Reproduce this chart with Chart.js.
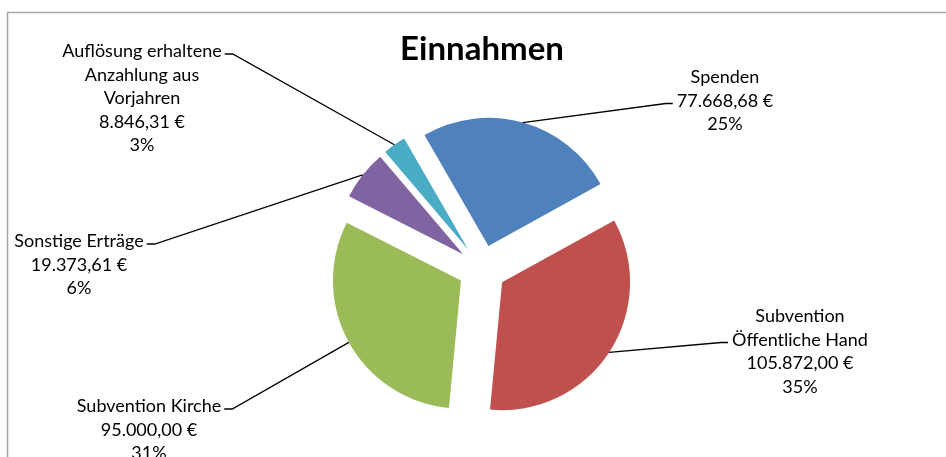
<!DOCTYPE html>
<html>
<head>
<meta charset="utf-8">
<script src="https://cdn.jsdelivr.net/npm/chart.js@4.4.1/dist/chart.umd.min.js"></script>
<style>
    html, body { margin: 0; padding: 0; background: #fff; }
    #wrap { position: relative; width: 946px; height: 457px; overflow: hidden; }
</style>
</head>
<body>
<div id="wrap"><canvas id="chartEinnahmen" width="946" height="457"></canvas></div>
<script>
    // Daten
    const kategorien = [
        ['Spenden'],
        ['Subvention', 'Öffentliche Hand'],
        ['Subvention Kirche'],
        ['Sonstige Erträge'],
        ['Auflösung erhaltene', 'Anzahlung aus', 'Vorjahren']
    ];
    const betraege = [77668.68, 105872.00, 95000.00, 19373.61, 8846.31];
    const farben   = ['#4F81BD', '#C0504D', '#9BBB59', '#8064A2', '#4BACC6'];

    // Beschriftungen: Mittelpunkt x, Grundlinie der ersten Zeile, Seite der Führungslinie, Zeile
    const labelLayout = [
        { cx: 725, y: 83,  side: 'left',  line: 1 },
        { cx: 800, y: 322, side: 'left',  line: 1 },
        { cx: 149, y: 412, side: 'right', line: 0 },
        { cx: 79,  y: 247, side: 'right', line: 0 },
        { cx: 142, y: 57,  side: 'right', line: 0 }
    ];
    const EXPLODE = 24;
    const LINE_H = 23.5;
    const LABEL_FONT = '18px Lato';

    const total = betraege.reduce((a, b) => a + b, 0);
    const euro = v => {
        const [i, d] = v.toFixed(2).split('.');
        return i.replace(/\B(?=(\d{3})+(?!\d))/g, '.') + ',' + d + ' €';
    };

    const framePlugin = {
        id: 'frame',
        beforeDraw(chart) {
            const c = chart.ctx;
            c.save();
            c.fillStyle = '#fff';
            c.fillRect(0, 0, chart.width, chart.height);
            c.strokeStyle = '#a6a6a6';
            c.lineWidth = 1.5;
            c.beginPath();
            c.moveTo(7.5, chart.height);
            c.lineTo(7.5, 12.5);
            c.lineTo(chart.width, 12.5);
            c.stroke();
            c.restore();
        }
    };

    // explodierte Segmente, gleichmäßig nach außen verschoben
    const explodePlugin = {
        id: 'explode',
        beforeDatasetsDraw(chart) {
            const c = chart.ctx;
            chart.getDatasetMeta(0).data.forEach(arc => {
                const mid = (arc.startAngle + arc.endAngle) / 2;
                c.save();
                c.translate(Math.cos(mid) * EXPLODE, Math.sin(mid) * EXPLODE);
                arc.draw(c);
                c.restore();
            });
            return false;
        }
    };

    const labelPlugin = {
        id: 'labels',
        afterDraw(chart) {
            const c = chart.ctx;
            c.save();
            c.font = LABEL_FONT;
            c.fillStyle = '#000';
            c.strokeStyle = '#000';
            c.lineWidth = 1.3;
            c.textAlign = 'center';
            c.textBaseline = 'alphabetic';
            chart.getDatasetMeta(0).data.forEach((arc, i) => {
                const lay = labelLayout[i];
                const lines = kategorien[i].concat([euro(betraege[i]), Math.round(betraege[i] / total * 100) + '%']);
                lines.forEach((t, k) => c.fillText(t, lay.cx, lay.y + k * LINE_H));

                const mid = (arc.startAngle + arc.endAngle) / 2;
                const r = arc.outerRadius + EXPLODE;
                const px = arc.x + Math.cos(mid) * r;
                const py = arc.y + Math.sin(mid) * r;
                const w = c.measureText(lines[lay.line]).width;
                const ly = lay.y + lay.line * LINE_H - 3;
                let x1, x2;
                if (lay.side === 'left') {
                    x1 = lay.cx - w / 2 - 4;
                    x2 = x1 - 7;
                } else {
                    x1 = lay.cx + w / 2 + 3;
                    x2 = x1 + 8;
                }
                c.beginPath();
                c.moveTo(px, py);
                c.lineTo(x2, ly);
                c.lineTo(x1, ly);
                c.stroke();
            });
            c.restore();
        }
    };

    const ctx = document.getElementById('chartEinnahmen').getContext('2d');
    new Chart(ctx, {
        type: 'pie',
        data: {
            labels: kategorien.map(k => k.join(' ')),
            datasets: [{
                data: betraege,
                backgroundColor: farben,
                borderWidth: 0
            }]
        },
        options: {
            responsive: false,
            animation: false,
            rotation: -30,
            radius: 128,
            layout: { padding: { left: 104, right: 86, top: 29.2, bottom: 0 } },
            plugins: {
                legend: { display: false },
                tooltip: { enabled: false },
                title: {
                    display: true,
                    text: 'Einnahmen',
                    color: '#000',
                    font: { family: 'Lato', size: 33, weight: 'bold', lineHeight: 1.2 },
                    padding: { top: 0, bottom: 12.2 }
                }
            }
        },
        plugins: [framePlugin, explodePlugin, labelPlugin]
    });
</script>
</body>
</html>
